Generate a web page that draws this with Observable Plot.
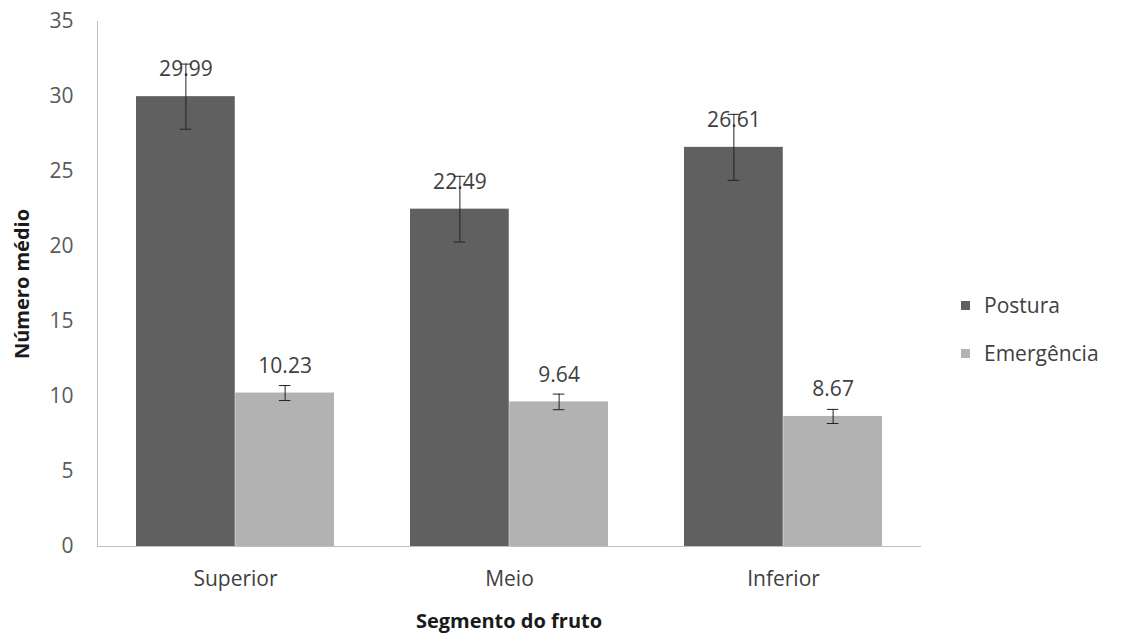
<!DOCTYPE html>
<html><head><meta charset="utf-8">
<script src="https://cdn.jsdelivr.net/npm/d3@7"></script>
<script src="https://cdn.jsdelivr.net/npm/@observablehq/plot@0.6"></script>
<style>
body{margin:0;background:#fff;}
#wrap{position:relative;width:1122px;height:637px;font-family:"Open Sans",sans-serif;}
#wrap svg{display:block;}
.leg{position:absolute;left:961px;display:flex;align-items:center;font-size:21px;color:#404040;}
.leg span.sw{display:inline-block;width:9px;height:9px;margin-right:14px;}
</style></head>
<body><div id="wrap"></div>
<script>
const categories = ["Superior", "Meio", "Inferior"];
const series = ["Postura", "Emergência"];
const posturaValues = [29.99, 22.49, 26.61];
const posturaErrors = [2.17, 2.19, 2.2];
const emergenciaValues = [10.23, 9.64, 8.67];
const emergenciaErrors = [0.5, 0.52, 0.47];
const yTicks = [0, 5, 10, 15, 20, 25, 30, 35];
const seriesColors = ["#606060", "#b2b2b2"];
const yTitle = "Número médio";
const xTitle = "Segmento do fruto";

const W = 1122, H = 637;
const mL = 97, mR = 202, mT = 21, mB = 91;
const pIn = 0.278, pOut = 0.136;
const step = (W - mL - mR) / (categories.length - pIn + 2 * pOut);
const bw = step * (1 - pIn);
const half = bw / 2;
const capHalf = 6;

const postura = categories.map((c, i) => ({category: c, value: posturaValues[i], err: posturaErrors[i]}));
const emergencia = categories.map((c, i) => ({category: c, value: emergenciaValues[i], err: emergenciaErrors[i]}));

function seriesMarks(data, color, left) {
  const off = left ? -half / 2 : half / 2;
  const center = left ? half / 2 : half + half / 2;
  return [
    Plot.barY(data, {x: "category", y: "value", fill: color, insetLeft: left ? 0 : half, insetRight: left ? half : 0}),
    Plot.text(data, {x: "category", y: "value", text: d => d.value.toFixed(2), dx: off, dy: -27, fontSize: 21, fill: "#404040"}),
    Plot.ruleX(data, {x: "category", y1: d => d.value - d.err, y2: d => d.value + d.err, dx: off, stroke: "#222", strokeWidth: 1}),
    Plot.tickY(data, {x: "category", y: d => d.value + d.err, insetLeft: center - capHalf, insetRight: bw - center - capHalf, stroke: "#222"}),
    Plot.tickY(data, {x: "category", y: d => d.value - d.err, insetLeft: center - capHalf, insetRight: bw - center - capHalf, stroke: "#222"})
  ];
}

const chart = Plot.plot({
  width: W, height: H,
  marginLeft: mL, marginRight: mR, marginTop: mT, marginBottom: mB,
  style: {fontFamily: "'Open Sans', sans-serif", background: "#fff"},
  x: {domain: categories, paddingInner: pIn, paddingOuter: pOut},
  y: {domain: [0, 35]},
  marks: [
    ...seriesMarks(postura, seriesColors[0], true),
    ...seriesMarks(emergencia, seriesColors[1], false),
    Plot.frame({anchor: "left", stroke: "#bfbfbf"}),
    Plot.frame({anchor: "bottom", stroke: "#bfbfbf"}),
    Plot.axisY({ticks: yTicks, tickSize: 0, tickPadding: 24, fontSize: 21, color: "#595959", label: null}),
    Plot.axisX({tickSize: 0, tickPadding: 25, fontSize: 21, color: "#404040", label: null}),
    Plot.text([yTitle], {frameAnchor: "left", rotate: -90, dx: -75, textAnchor: "middle", fontWeight: "bold", fontSize: 20, fill: "#1a1a1a", lineAnchor: "middle"}),
    Plot.text([xTitle], {frameAnchor: "bottom", dy: 75, fontWeight: "bold", fontSize: 20, fill: "#1a1a1a", lineAnchor: "middle"})
  ]
});
const wrap = document.getElementById("wrap");
wrap.appendChild(chart);
series.forEach((s, i) => {
  const d = document.createElement("div");
  d.className = "leg";
  d.style.top = (i === 0 ? 291 : 339) + "px";
  d.innerHTML = `<span class="sw" style="background:${seriesColors[i]}"></span><span>${s}</span>`;
  wrap.appendChild(d);
});
</script>
</body></html>
